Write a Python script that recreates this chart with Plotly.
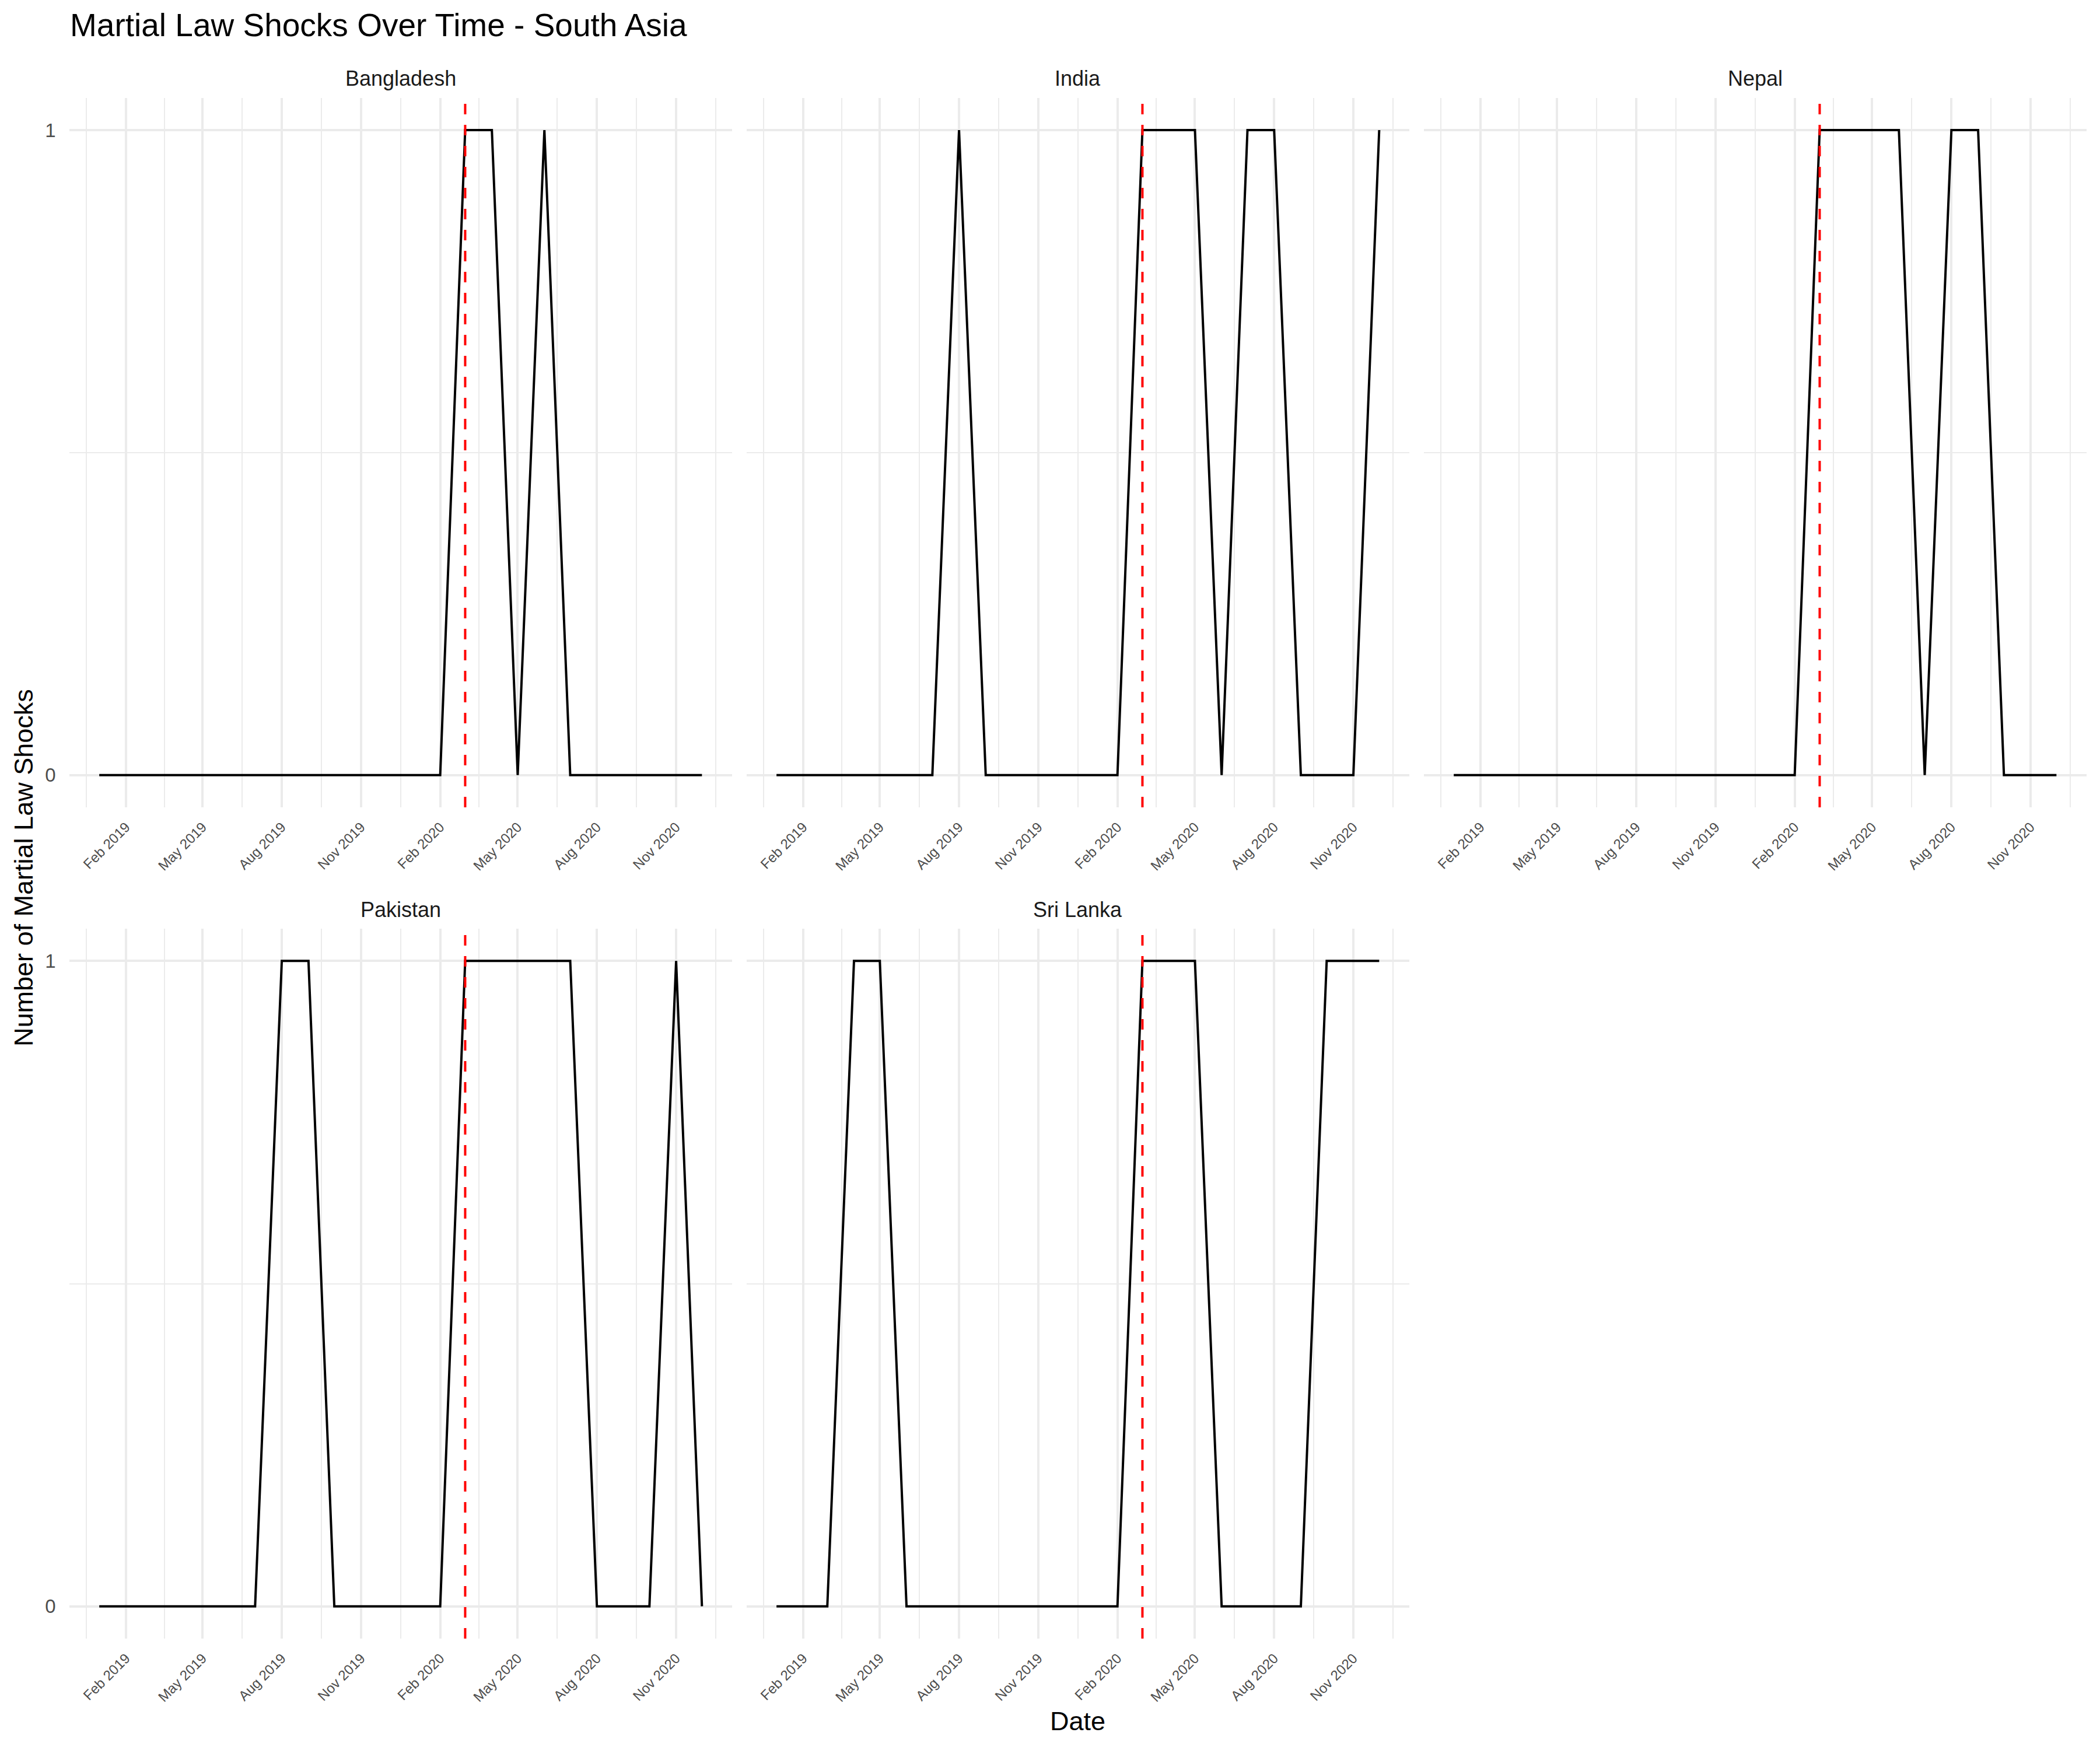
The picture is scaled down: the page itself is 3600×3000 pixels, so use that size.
import plotly.graph_objects as go
import pandas as pd

# ---------------- data ----------------
months = pd.date_range("2019-01-01", "2020-12-01", freq="MS")
countries = ["Bangladesh", "India", "Nepal", "Pakistan", "Sri Lanka"]

bangladesh = [0,0,0,0,0,0,0,0,0,0,0,0, 0,0,1,1,0,1,0,0,0,0,0,0]
india      = [0,0,0,0,0,0,0,1,0,0,0,0, 0,0,1,1,1,0,1,1,0,0,0,1]
nepal      = [0,0,0,0,0,0,0,0,0,0,0,0, 0,0,1,1,1,1,0,1,1,0,0,0]
pakistan   = [0,0,0,0,0,0,0,1,1,0,0,0, 0,0,1,1,1,1,1,0,0,0,1,0]
sri_lanka  = [0,0,0,1,1,0,0,0,0,0,0,0, 0,0,1,1,1,0,0,0,0,1,1,1]
series = [bangladesh, india, nepal, pakistan, sri_lanka]

event_date = "2020-03-01"

tick_dates = ["2019-02-01", "2019-05-01", "2019-08-01", "2019-11-01",
              "2020-02-01", "2020-05-01", "2020-08-01", "2020-11-01"]
tick_labels = ["Feb 2019", "May 2019", "Aug 2019", "Nov 2019",
               "Feb 2020", "May 2020", "Aug 2020", "Nov 2020"]
y_ticks = [0, 1]
y_tick_labels = ["0", "1"]

# ---------------- layout geometry ----------------
W, H = 3600, 3000
FONT = "Liberation Sans, Arial, Helvetica, sans-serif"
GRID = "#EBEBEB"

col_x = [(118.5, 1255.0), (1279.5, 2416.0), (2440.5, 3577.0)]
row_y = [(167.7, 1384.0), (1592.0, 2809.0)]
positions = [(0, 0), (0, 1), (0, 2), (1, 0), (1, 1)]

# x range with ggplot-like 5% expansion
d0 = months[0]
d1 = months[-1]
span = d1 - d0
x_range = [d0 - span * 0.05, d1 + span * 0.05]

# minor gridlines at midpoints of major breaks (ggplot style)
major_all = pd.to_datetime(["2018-11-01"] + tick_dates + ["2021-02-01"])
minor_vals = [major_all[i] + (major_all[i + 1] - major_all[i]) / 2 for i in range(len(major_all) - 1)]

fig = go.Figure()
layout = dict(
    width=W, height=H, autosize=False,
    margin=dict(l=0, r=0, t=0, b=0),
    paper_bgcolor="white", plot_bgcolor="white",
    showlegend=False,
    font=dict(family=FONT),
)

annotations = []
shapes = []

for i, (name, vals) in enumerate(zip(countries, series)):
    r, c = positions[i]
    k = "" if i == 0 else str(i + 1)
    xa, ya = "x" + k, "y" + k
    fig.add_trace(go.Scatter(
        x=months, y=vals, mode="lines", xaxis=xa, yaxis=ya,
        line=dict(color="black", width=4), hoverinfo="skip",
    ))
    x0, x1 = col_x[c]
    y0, y1 = row_y[r]
    layout["xaxis" + k] = dict(
        domain=[x0 / W, x1 / W], anchor=ya, type="date", range=x_range,
        tickmode="array", tickvals=tick_dates, ticktext=tick_labels,
        tickangle=-45, tickfont=dict(size=24, color="#4D4D4D", family=FONT),
        showgrid=True, gridcolor=GRID, gridwidth=4.4,
        minor=dict(tickmode="array", tickvals=minor_vals, showgrid=True,
                   gridcolor=GRID, gridwidth=2.2, ticks=""),
        showline=False, zeroline=False, ticks="", ticklabelstandoff=14,
        fixedrange=True,
    )
    layout["yaxis" + k] = dict(
        domain=[1 - y1 / H, 1 - y0 / H], anchor=xa, range=[-0.05, 1.05],
        tickmode="array", tickvals=y_ticks, ticktext=y_tick_labels,
        showticklabels=(c == 0),
        tickfont=dict(size=33, color="#4D4D4D", family=FONT),
        showgrid=True, gridcolor=GRID, gridwidth=4.4,
        minor=dict(tickmode="array", tickvals=[0.5], showgrid=True,
                   gridcolor=GRID, gridwidth=2.2, ticks=""),
        showline=False, zeroline=False, ticks="", ticklabelstandoff=22,
        fixedrange=True,
    )
    shapes.append(dict(
        type="line", xref=xa, yref=ya + " domain",
        x0=event_date, x1=event_date, y0=0, y1=1,
        line=dict(color="red", width=4, dash="18px,18px"), layer="above",
    ))
    annotations.append(dict(
        text=name, xref="paper", yref="paper",
        x=(x0 + x1) / 2 / W, y=1 - (y0 - 33) / H,
        xanchor="center", yanchor="middle", showarrow=False,
        font=dict(size=36, color="#1A1A1A", family=FONT),
    ))

annotations.append(dict(
    text="Date", xref="paper", yref="paper",
    x=(118.5 + 3577) / 2 / W, y=1 - 2950 / H,
    xanchor="center", yanchor="middle", showarrow=False,
    font=dict(size=45, color="black", family=FONT),
))
annotations.append(dict(
    text="Number of Martial Law Shocks", xref="paper", yref="paper",
    x=40 / W, y=1 - 1488 / H, textangle=-90,
    xanchor="center", yanchor="middle", showarrow=False,
    font=dict(size=45, color="black", family=FONT),
))

layout["title"] = dict(
    text="Martial Law Shocks Over Time - South Asia",
    x=120 / W, xanchor="left", xref="paper",
    y=1 - 43 / H, yanchor="middle", yref="paper",
    font=dict(size=55, color="black", family=FONT),
)
layout["annotations"] = annotations
layout["shapes"] = shapes

fig.update_layout(**layout)
fig.write_html("out.html")
